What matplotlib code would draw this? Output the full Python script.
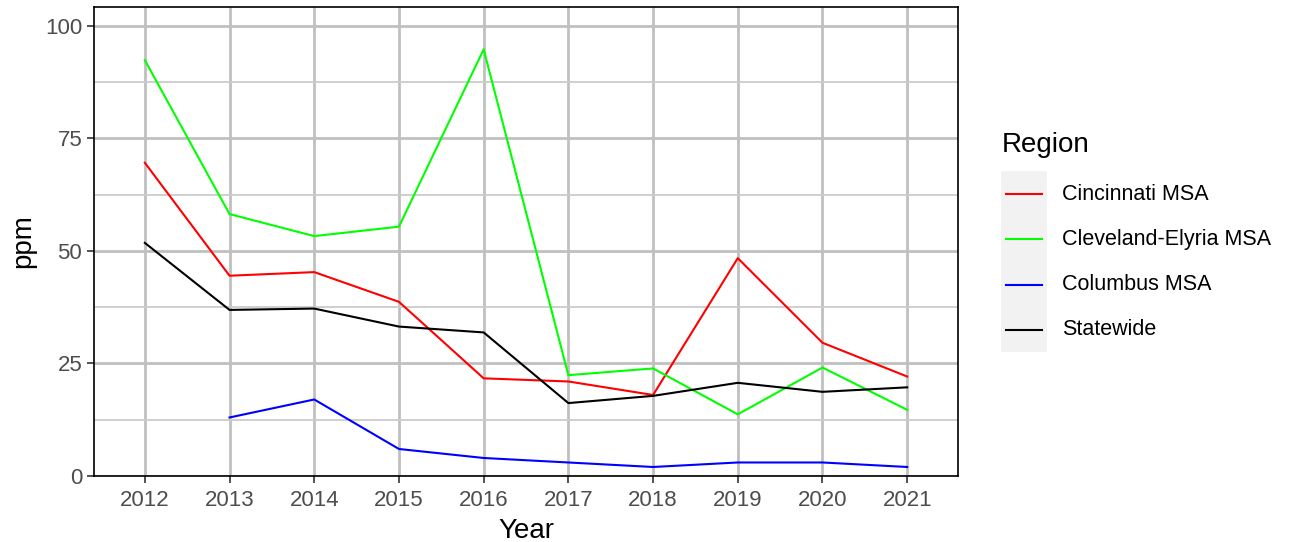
import matplotlib
matplotlib.use("Agg")
import matplotlib.pyplot as plt
from matplotlib.lines import Line2D
from matplotlib.patches import Rectangle
import numpy as np

plt.rcParams['font.family'] = ['Liberation Sans', 'DejaVu Sans']

years = [2012, 2013, 2014, 2015, 2016, 2017, 2018, 2019, 2020, 2021]
regions = ["Cincinnati MSA", "Cleveland-Elyria MSA", "Columbus MSA", "Statewide"]
colors = ["#FF0000", "#00FF00", "#0000FF", "#000000"]

cincinnati = [69.6, 44.5, 45.3, 38.7, 21.7, 21.0, 18.0, 48.4, 29.6, 22.1]
cleveland = [92.4, 58.2, 53.3, 55.4, 94.8, 22.4, 23.9, 13.7, 24.1, 14.7]
columbus = [np.nan, 13, 17, 6, 4, 3, 2, 3, 3, 2]
statewide = [51.8, 36.9, 37.2, 33.2, 31.9, 16.2, 17.8, 20.7, 18.7, 19.7]
series = [cincinnati, cleveland, columbus, statewide]

fig = plt.figure(figsize=(13.02, 5.42), dpi=100)
ax = fig.add_axes([0.0722, 0.1218, 0.6636, 0.8652])

x = np.arange(len(years))
for vals, c in zip(series, colors):
    ax.plot(x, vals, color=c, lw=1.5, zorder=3)

ax.set_xlim(-0.6, len(years) - 0.4)
ax.set_ylim(0, 104.2)
ax.set_xticks(x)
ax.set_xticklabels([str(y) for y in years])
ax.set_yticks([0, 25, 50, 75, 100])
ax.set_yticks([12.5, 37.5, 62.5, 87.5], minor=True)
ax.grid(True, which='major', color='#C0C0C0', lw=2.0, zorder=0)
ax.grid(True, which='minor', axis='y', color='#CCCCCC', lw=1.3, zorder=0)
ax.set_axisbelow(True)
ax.tick_params(axis='both', which='major', labelsize=16, colors='#333333',
               labelcolor='#4D4D4D', length=5, width=1.2)
ax.tick_params(axis='x', which='major', pad=5)
ax.tick_params(axis='y', which='minor', length=0)
for s in ax.spines.values():
    s.set_color('black')
    s.set_linewidth(1.2)
ax.set_xlabel("Year", fontsize=20, labelpad=5)
ax.set_ylabel("ppm", fontsize=20, labelpad=6)

# legend drawn by hand to get ggplot-style grey key boxes
W, H = 1302, 542
fig.text(1002 / W, 1 - 145 / H, "Region", fontsize=20, va='center', ha='left')
fig.patches.append(Rectangle((1001 / W, 1 - 352 / H), 46 / W, 181 / H,
                             transform=fig.transFigure, facecolor='#F2F2F2',
                             edgecolor='none'))
for i, (name, c) in enumerate(zip(regions, colors)):
    yy = 1 - (194 + i * 45.3) / H
    fig.lines.append(Line2D([1006 / W, 1042 / W], [yy, yy], color=c, lw=1.5,
                            transform=fig.transFigure))
    fig.text(1062 / W, yy, name, fontsize=15.5, va='center', ha='left')

fig.savefig("out.png", dpi=100)
